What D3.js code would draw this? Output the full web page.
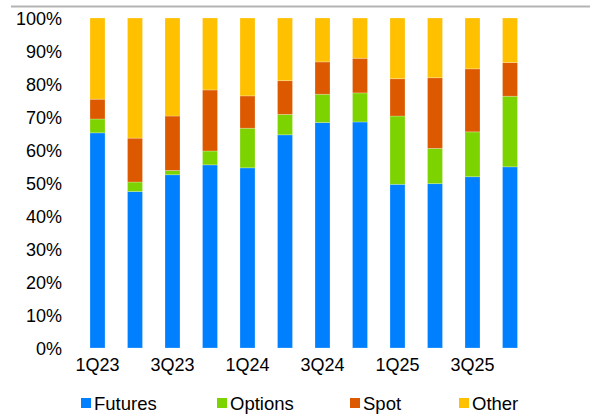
<!DOCTYPE html>
<html>
<head>
<meta charset="utf-8">
<script src="https://cdn.jsdelivr.net/npm/d3@7"></script>
<style>
  html, body { margin: 0; padding: 0; background: #fff; }
  svg { display: block; font-family: "Liberation Sans", Arial, sans-serif; }
</style>
</head>
<body>
<svg id="chart" width="590" height="417"></svg>
<script>
// Quarterly trading-volume mix by product, in percent of total
const quarters = ["1Q23","2Q23","3Q23","4Q23","1Q24","2Q24","3Q24","4Q24","1Q25","2Q25","3Q25","4Q25"];
const tickLabels = ["1Q23","3Q23","1Q24","3Q24","1Q25","3Q25"];
const seriesNames = ["Futures","Options","Spot","Other"];
const futures = [65.2, 47.4, 52.5, 55.5, 54.6, 64.6, 68.3, 68.5, 49.6, 49.8, 51.9, 54.9];
const options = [ 4.2,  2.9,  1.3,  4.2, 12.0,  6.2,  8.6,  8.8, 20.7, 10.7, 13.6, 21.4];
const spot    = [ 6.0, 13.3, 16.5, 18.5,  9.8, 10.2,  9.8, 10.5, 11.3, 21.4, 19.1, 10.2];
const other   = [24.6, 36.4, 29.7, 21.8, 23.6, 19.0, 13.3, 12.2, 18.4, 18.1, 15.4, 13.5];
const yTicks  = [0, 10, 20, 30, 40, 50, 60, 70, 80, 90, 100];

const colors = { Futures: "#0080FF", Options: "#7DD300", Spot: "#DD5900", Other: "#FFC000" };

const rows = quarters.map((q, i) => ({
  quarter: q, Futures: futures[i], Options: options[i], Spot: spot[i], Other: other[i]
}));

const svg = d3.select("#chart");

const x = d3.scaleBand()
  .domain(quarters)
  .range([78.75, 528.75])
  .paddingInner(0.6)
  .paddingOuter(0.3);

const y = d3.scaleLinear().domain([0, 100]).range([348, 18]);

// rule across the top
svg.append("line")
  .attr("x1", 11).attr("x2", 590)
  .attr("y1", 6.5).attr("y2", 6.5)
  .attr("stroke", "#B4B4B4").attr("stroke-width", 2);

// stacked bars
const stacked = d3.stack().keys(seriesNames)(rows);
svg.append("g")
  .selectAll("g")
  .data(stacked)
  .join("g")
  .attr("fill", d => colors[d.key])
  .selectAll("rect")
  .data(d => d)
  .join("rect")
  .attr("x", d => x(d.data.quarter))
  .attr("width", x.bandwidth())
  .attr("y", d => y(d[1]))
  .attr("height", d => y(d[0]) - y(d[1]))
  .attr("stroke", "rgba(255,255,255,0.3)")
  .attr("stroke-width", 0.8);

// y axis labels
const yAxis = d3.axisLeft(y)
  .tickValues(yTicks)
  .tickFormat(d => d + "%")
  .tickSize(0)
  .tickPadding(0);
const gy = svg.append("g").attr("transform", "translate(62,1)").call(yAxis);
gy.select(".domain").remove();
gy.selectAll("text")
  .attr("font-size", 18)
  .attr("font-family", "Liberation Sans, Arial, sans-serif")
  .attr("fill", "#000");

// x axis labels (every other quarter)
const xAxis = d3.axisBottom(x)
  .tickValues(tickLabels)
  .tickSize(0)
  .tickPadding(0);
const gx = svg.append("g").attr("transform", "translate(0,358)").call(xAxis);
gx.select(".domain").remove();
gx.selectAll("text")
  .attr("font-size", 18)
  .attr("font-family", "Liberation Sans, Arial, sans-serif")
  .attr("fill", "#000")
  .attr("dy", "0.71em");

// legend
const legendX = [81, 217, 350, 459];
const legend = svg.append("g")
  .selectAll("g")
  .data(seriesNames)
  .join("g")
  .attr("transform", (d, i) => `translate(${legendX[i]},398)`);
legend.append("rect")
  .attr("width", 10).attr("height", 10)
  .attr("fill", d => colors[d]);
legend.append("text")
  .attr("x", 13).attr("y", 12)
  .attr("font-size", 18.5)
  .attr("fill", "#000")
  .text(d => d);
</script>
</body>
</html>
